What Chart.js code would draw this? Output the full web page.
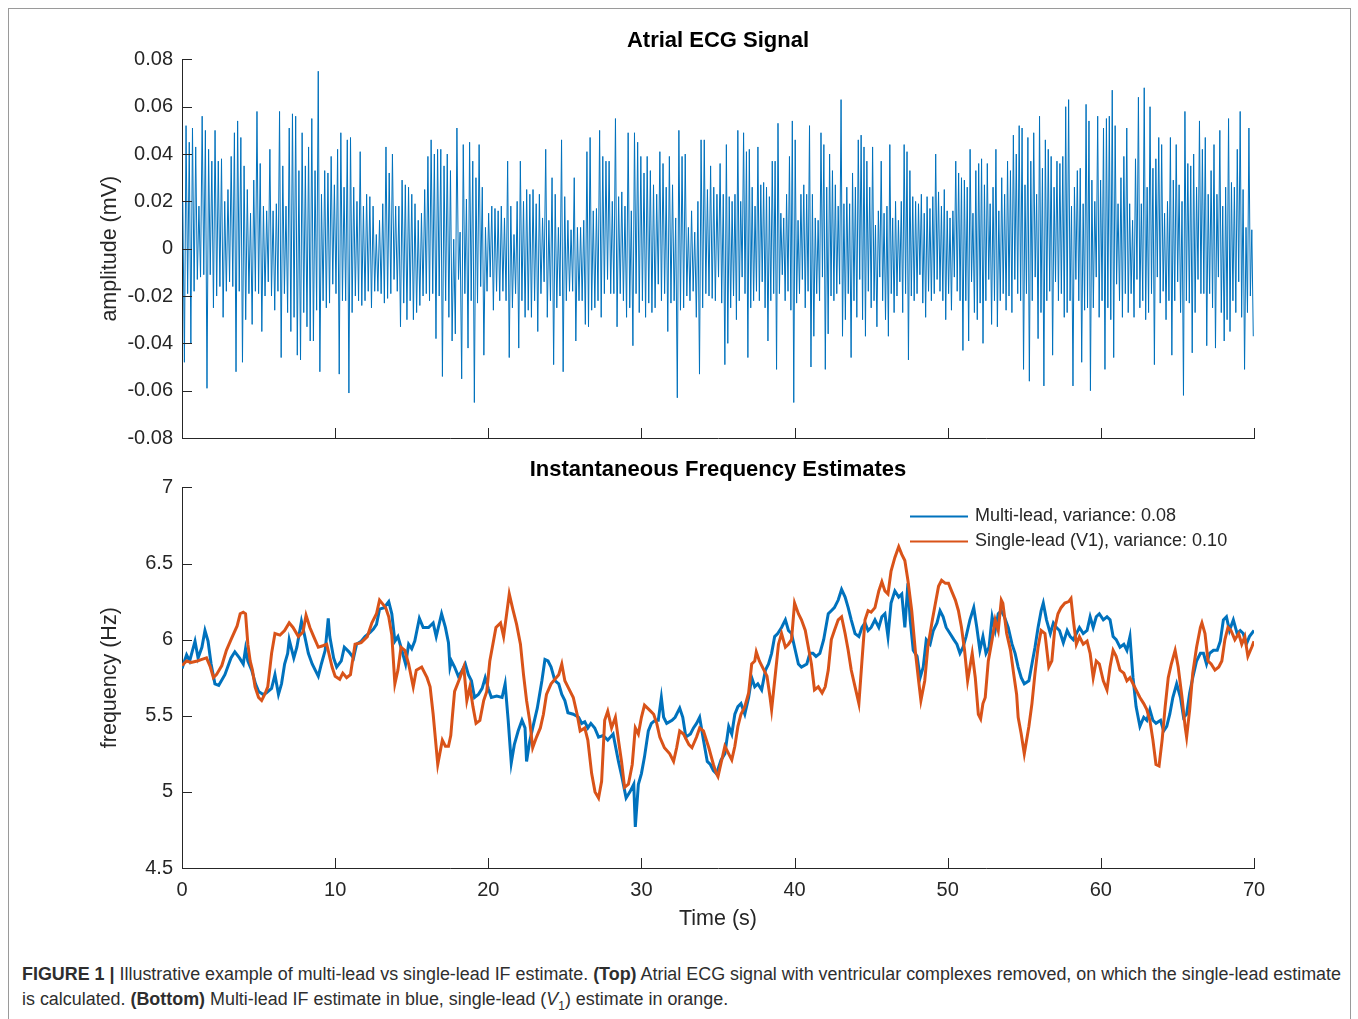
<!DOCTYPE html>
<html>
<head>
<meta charset="utf-8">
<title>Atrial ECG signal and IF estimates</title>
<script src="https://cdn.jsdelivr.net/npm/chart.js@4.4.1/dist/chart.umd.min.js"></script>
<style>
  html, body { margin: 0; padding: 0; background: #fff; }
  body { width: 1358px; height: 1019px; position: relative; overflow: hidden; }
  .frame { position: absolute; left: 8px; top: 8px; width: 1343px; height: 1040px; border: 1px solid #9a9a9a; box-sizing: border-box; }
  #ecgChart { position: absolute; left: 0; top: 0; }
  #ifChart { position: absolute; left: 0; top: 448px; }
  #caption { position: absolute; left: 22px; top: 962px; color: #2e2e2e; font-size: 18px; line-height: 25px;
             font-family: 'Liberation Sans Narrow', 'Liberation Sans', Arial, sans-serif; }
  #caption .line { white-space: nowrap; transform-origin: 0 50%; width: max-content; }
  #caption sub { font-size: 12px; line-height: 0; }
</style>
</head>
<body>
<div class="frame"></div>
<canvas id="ecgChart" width="1358" height="460"></canvas>
<canvas id="ifChart" width="1358" height="492"></canvas>
<div id="caption">
  <div class="line"><b>FIGURE 1 |</b> Illustrative example of multi-lead vs single-lead IF estimate. <b>(Top)</b> Atrial ECG signal with ventricular complexes removed, on which the single-lead estimate</div>
  <div class="line">is calculated. <b>(Bottom)</b> Multi-lead IF estimate in blue, single-lead (<i>V</i><sub>1</sub>) estimate in orange.</div>
</div>
<script>
// atrial ECG: one peak and one trough per oscillation, four stretches of the recording
const ecgSpanEdges = [0, 17.9, 35.5, 53.1, 70];
const ecgSpanCycles = [85, 85, 94, 89];
const ecgPeaks = [
  .020,.052,.045,.051,.043,.018,.056,.050,.042,.037,.050,.037,.038,.020,.025,.039,.049,.054,.047,.035,
  .025,.015,.029,.058,.036,.018,.016,.042,.016,.019,.058,.035,.018,.051,.057,.056,.033,.049,.035,.043,
  .055,.033,.075,.023,.033,.032,.039,.027,.042,.049,.026,.046,.047,.026,.020,.041,.018,.023,.022,.018,
  .006,.012,.019,.043,.032,.040,.018,.018,.029,.027,.026,.023,.019,.012,.015,.025,.039,.046,.040,.042,
  .042,.035,.040,.033,.004,
  .051,.007,.044,.021,.045,.037,.030,.044,.026,.009,.015,.018,.017,.016,.018,.013,.037,.018,.006,.020,
  .037,.020,.025,.023,.025,.019,.023,.013,.042,.012,.030,.023,.009,.046,.022,.012,.008,.030,.009,.009,
  .012,.041,.047,.016,.017,.050,.039,.037,.037,.020,.055,.022,.024,.018,.049,.016,.049,.045,.039,.032,
  .039,.033,.027,.023,.041,.036,.026,.039,.027,.013,.050,.039,.040,.009,.016,.007,.020,.046,.046,.025,
  .035,.026,.023,.036,.023,
  .044,.022,.020,.023,.050,.020,.049,.041,.042,.026,.018,.043,.027,.028,.026,.022,.037,.037,.053,.015,
  .013,.023,.039,.054,.046,.012,.023,.027,.023,.052,.023,.013,.012,.049,.044,.026,.040,.033,.027,.018,
  .063,.019,.026,.019,.032,.026,.046,.048,.043,.037,.026,.043,.010,.016,.037,.015,.018,.044,.013,.020,
  .012,.020,.044,.041,.033,.022,.020,.019,.023,.015,.022,.017,.022,.040,.024,.018,.025,.016,.013,.016,
  .037,.032,.030,.029,.026,.042,.015,.033,.036,.038,.027,.036,.019,.026,
  .042,.016,.030,.023,.037,.033,.048,.040,.052,.051,.027,.047,.037,.049,.023,.056,.034,.046,.042,.039,
  .026,.037,.036,.039,.060,.063,.018,.026,.033,.034,.019,.061,.054,.029,.020,.056,.029,.051,.055,.056,
  .067,.052,.019,.030,.039,.051,.019,.012,.038,.064,.019,.068,.026,.060,.034,.038,.047,.044,.015,.020,
  .047,.029,.044,.027,.020,.058,.036,.035,.040,.026,.054,.042,.047,.023,.033,.044,.023,.050,.018,.026,
  .055,.028,.026,.042,.058,.025,.009,.051,.008
];
const ecgTroughs = [
  -.048,-.019,-.040,-.018,-.013,-.012,-.011,-.059,-.011,-.025,-.020,-.016,-.029,-.018,-.014,-.016,-.052,-.018,-.048,-.030,
  -.019,-.032,-.018,-.019,-.035,-.020,-.014,-.020,-.026,-.018,-.046,-.019,-.027,-.035,-.029,-.045,-.047,-.027,-.033,-.039,
  -.039,-.026,-.052,-.022,-.025,-.023,-.015,-.019,-.053,-.022,-.022,-.061,-.027,-.020,-.022,-.024,-.022,-.018,-.025,-.018,
  -.018,-.019,-.023,-.021,-.019,-.013,-.018,-.033,-.023,-.030,-.022,-.030,-.027,-.024,-.020,-.019,-.022,-.019,-.038,-.020,
  -.054,-.022,-.029,-.039,-.036,
  -.013,-.055,-.019,-.042,-.022,-.065,-.023,-.016,-.045,-.018,-.012,-.026,-.018,-.022,-.018,-.022,-.046,-.025,-.019,-.042,
  -.022,-.029,-.026,-.029,-.022,-.035,-.019,-.014,-.029,-.022,-.049,-.025,-.020,-.052,-.022,-.018,-.018,-.039,-.022,-.022,
  -.032,-.033,-.026,-.025,-.022,-.029,-.019,-.013,-.019,-.019,-.033,-.019,-.022,-.029,-.025,-.041,-.019,-.027,-.022,-.029,
  -.023,-.027,-.025,-.015,-.022,-.019,-.035,-.023,-.022,-.063,-.026,-.025,-.020,-.022,-.018,-.029,-.053,-.025,-.019,-.020,
  -.021,-.022,-.012,-.023,-.049,
  -.040,-.025,-.020,-.030,-.022,-.012,-.019,-.046,-.025,-.022,-.018,-.022,-.014,-.025,-.039,-.022,-.019,-.051,-.019,-.011,
  -.022,-.018,-.026,-.065,-.023,-.019,-.013,-.025,-.018,-.050,-.037,-.019,-.022,-.012,-.051,-.036,-.020,-.022,-.019,-.015,
  -.037,-.030,-.019,-.046,-.022,-.029,-.013,-.030,-.037,-.018,-.025,-.022,-.033,-.012,-.022,-.030,-.037,-.019,-.027,-.020,
  -.014,-.027,-.019,-.047,-.020,-.022,-.019,-.011,-.023,-.029,-.018,-.022,-.019,-.013,-.018,-.022,-.030,-.019,-.026,-.012,
  -.018,-.022,-.043,-.022,-.039,-.014,-.027,-.030,-.023,-.040,-.022,-.013,-.032,-.022,
  -.033,-.022,-.019,-.026,-.020,-.027,-.013,-.019,-.022,-.051,-.019,-.056,-.022,-.012,-.038,-.027,-.058,-.022,-.018,-.045,
  -.014,-.022,-.019,-.029,-.027,-.022,-.058,-.013,-.022,-.048,-.026,-.025,-.060,-.025,-.012,-.029,-.022,-.051,-.025,-.030,
  -.046,-.015,-.022,-.029,-.019,-.027,-.019,-.029,-.013,-.025,-.022,-.030,-.027,-.019,-.049,-.012,-.023,-.018,-.030,-.022,
  -.045,-.022,-.014,-.027,-.062,-.022,-.023,-.044,-.027,-.013,-.019,-.019,-.041,-.019,-.025,-.042,-.012,-.027,-.039,-.030,
  -.035,-.022,-.027,-.014,-.029,-.051,-.027,-.020,-.037
];
const ecgTicks = [-0.08, 0.08, 0.02];   // min, max, step

// instantaneous frequency estimates, [time (s), frequency (Hz)]
const multiLead = [
  [0,5.81],[0.3,5.90],[0.5,5.86],[0.85,5.99],[1.05,5.88],[1.3,5.95],[1.5,6.06],[1.7,5.99],[1.9,5.84],[2.15,5.71],
  [2.4,5.70],[2.8,5.77],[3.2,5.88],[3.45,5.92],[3.75,5.88],[4.0,5.84],[4.15,5.94],[4.3,5.86],[4.55,5.80],[4.8,5.71],
  [5.0,5.66],[5.3,5.64],[5.5,5.65],[5.85,5.68],[6.07,5.77],[6.3,5.64],[6.5,5.71],[6.7,5.84],[6.9,5.91],[7.0,6.00],
  [7.3,5.88],[7.5,5.95],[7.8,6.12],[8.0,6.03],[8.25,5.91],[8.5,5.84],[8.7,5.80],[8.9,5.76],[9.1,5.84],[9.35,5.93],
  [9.55,6.14],[9.65,6.02],[9.9,5.88],[10.1,5.82],[10.4,5.86],[10.6,5.95],[10.9,5.92],[11.2,5.88],[11.4,5.97],[11.7,5.99],
  [11.95,6.02],[12.3,6.05],[12.5,6.07],[12.7,6.10],[12.9,6.20],[13.2,6.21],[13.5,6.25],[13.7,6.17],[13.9,5.99],[14.1,6.02],
  [14.3,5.95],[14.6,5.84],[14.8,5.97],[15.0,5.94],[15.2,5.99],[15.5,6.14],[15.75,6.08],[16.1,6.08],[16.4,6.11],[16.6,6.02],
  [16.95,6.17],[17.2,6.08],[17.4,5.98],[17.5,5.82],[17.6,5.86],[17.8,5.82],[18.04,5.76],[18.25,5.79],[18.5,5.84],[18.7,5.77],
  [18.9,5.73],[19.1,5.62],[19.35,5.64],[19.6,5.68],[19.8,5.75],[20.0,5.68],[20.2,5.62],[20.55,5.63],[20.9,5.62],[21.1,5.71],
  [21.3,5.47],[21.5,5.19],[21.7,5.31],[21.95,5.40],[22.2,5.47],[22.4,5.42],[22.5,5.20],[22.7,5.33],[22.9,5.42],[23.2,5.55],
  [23.5,5.73],[23.7,5.87],[23.9,5.86],[24.1,5.82],[24.35,5.73],[24.6,5.71],[24.8,5.64],[25.0,5.60],[25.2,5.52],[25.55,5.51],
  [25.9,5.49],[26.1,5.45],[26.3,5.46],[26.5,5.42],[26.7,5.45],[26.95,5.42],[27.2,5.36],[27.5,5.37],[27.8,5.34],[28.15,5.38],
  [28.5,5.20],[28.7,5.11],[29.0,4.96],[29.25,5.00],[29.5,5.05],[29.6,4.77],[29.8,5.05],[30.0,5.12],[30.2,5.23],[30.45,5.40],
  [30.65,5.45],[30.9,5.47],[31.1,5.47],[31.3,5.62],[31.45,5.49],[31.65,5.45],[32.0,5.47],[32.2,5.49],[32.5,5.55],[32.7,5.49],
  [32.9,5.36],[33.2,5.38],[33.4,5.42],[33.6,5.45],[33.8,5.49],[34.05,5.34],[34.3,5.20],[34.5,5.18],[34.7,5.14],[34.9,5.12],
  [35.2,5.21],[35.45,5.25],[35.7,5.43],[35.9,5.38],[36.1,5.51],[36.3,5.56],[36.5,5.58],[36.75,5.51],[37.0,5.62],[37.2,5.75],
  [37.4,5.69],[37.6,5.71],[37.85,5.67],[38.1,5.80],[38.3,5.84],[38.5,5.91],[38.7,6.02],[38.9,6.04],[39.15,6.08],[39.4,6.13],
  [39.6,6.06],[39.8,6.04],[40.0,5.95],[40.25,5.84],[40.45,5.82],[40.8,5.84],[41.0,5.91],[41.2,5.91],[41.4,5.89],[41.65,5.91],
  [41.9,6.00],[42.2,6.17],[42.4,6.19],[42.6,6.21],[42.85,6.26],[43.07,6.33],[43.3,6.28],[43.5,6.21],[43.7,6.13],[43.95,6.04],
  [44.2,6.02],[44.4,6.08],[44.6,6.11],[44.8,6.06],[45.0,6.08],[45.25,6.13],[45.5,6.08],[45.7,6.15],[45.9,6.17],[46.1,6.02],
  [46.3,6.24],[46.55,6.32],[46.8,6.28],[47.0,6.30],[47.2,6.08],[47.4,6.37],[47.55,6.13],[47.75,5.93],[48.0,5.89],[48.2,5.75],
  [48.4,5.82],[48.6,6.00],[48.85,5.97],[49.06,6.06],[49.3,6.11],[49.5,6.19],[49.7,6.15],[49.9,6.08],[50.15,6.04],[50.4,6.00],
  [50.6,5.97],[50.8,5.91],[51.0,5.95],[51.2,6.02],[51.45,6.13],[51.7,6.21],[51.9,6.08],[52.1,5.93],[52.3,6.02],[52.5,5.91],
  [52.7,5.95],[52.9,6.15],[53.1,6.06],[53.3,6.17],[53.5,6.19],[53.7,6.15],[53.95,6.08],[54.2,5.97],[54.4,5.91],[54.6,5.82],
  [54.8,5.75],[55.0,5.71],[55.3,5.73],[55.5,5.84],[55.7,5.95],[55.9,6.08],[56.1,6.19],[56.24,6.24],[56.45,6.13],[56.7,6.04],
  [56.9,6.11],[57.1,6.08],[57.3,6.06],[57.55,5.98],[57.8,6.06],[58.0,6.02],[58.2,6.00],[58.4,6.04],[58.6,6.08],[58.85,6.04],
  [59.1,6.06],[59.3,6.15],[59.5,6.08],[59.7,6.15],[59.9,6.17],[60.16,6.13],[60.4,6.15],[60.6,6.13],[60.8,6.02],[61.0,6.00],
  [61.25,5.95],[61.5,5.97],[61.7,5.93],[61.9,6.02],[62.1,5.75],[62.3,5.56],[62.55,5.43],[62.8,5.49],[63.0,5.47],[63.2,5.54],
  [63.4,5.47],[63.6,5.45],[63.9,5.47],[64.1,5.40],[64.3,5.43],[64.5,5.51],[64.7,5.62],[64.95,5.71],[65.2,5.62],[65.4,5.49],
  [65.6,5.51],[65.8,5.65],[66.0,5.75],[66.25,5.86],[66.5,5.91],[66.7,5.91],[66.9,5.84],[67.1,5.91],[67.35,5.93],[67.6,5.93],
  [67.8,5.99],[68.0,6.13],[68.2,6.15],[68.4,6.06],[68.65,6.13],[68.9,6.04],[69.1,6.06],[69.3,6.04],[69.5,5.97],[69.7,6.02],
  [70.0,6.06]
];
const singleLead = [
  [0,5.83],[0.3,5.86],[0.6,5.85],[1.0,5.86],[1.3,5.87],[1.6,5.88],[1.85,5.82],[2.05,5.75],[2.25,5.77],[2.6,5.83],
  [2.9,5.93],[3.2,6.00],[3.6,6.09],[3.8,6.17],[4.0,6.18],[4.15,6.17],[4.3,5.97],[4.45,5.86],[4.6,5.80],[4.77,5.69],
  [5.0,5.62],[5.2,5.60],[5.4,5.64],[5.6,5.69],[5.85,5.91],[6.07,6.04],[6.4,6.03],[6.7,6.06],[7.0,6.11],[7.25,6.08],
  [7.6,6.02],[7.9,6.05],[8.1,6.16],[8.35,6.08],[8.6,6.02],[8.9,5.95],[9.2,5.96],[9.45,5.97],[9.8,5.82],[10.0,5.76],
  [10.3,5.74],[10.5,5.78],[10.75,5.75],[11.0,5.77],[11.3,5.97],[11.7,5.98],[12.1,6.02],[12.4,6.11],[12.7,6.17],[12.9,6.26],
  [13.3,6.21],[13.5,6.15],[13.7,6.03],[13.9,5.71],[14.1,5.80],[14.3,5.95],[14.55,5.93],[14.8,5.84],[15.1,5.69],[15.3,5.80],
  [15.65,5.82],[16.0,5.75],[16.2,5.69],[16.4,5.51],[16.6,5.29],[16.7,5.18],[17.0,5.34],[17.2,5.30],[17.4,5.30],[17.55,5.37],
  [17.65,5.49],[17.8,5.66],[18.15,5.75],[18.4,5.82],[18.6,5.60],[18.8,5.69],[19.0,5.56],[19.2,5.45],[19.45,5.47],[19.7,5.60],
  [19.9,5.66],[20.1,5.86],[20.3,5.97],[20.5,6.08],[20.8,6.11],[21.0,6.02],[21.2,6.17],[21.37,6.30],[21.6,6.20],[21.85,6.10],
  [22.1,5.97],[22.3,5.77],[22.5,5.60],[22.7,5.47],[22.9,5.29],[23.15,5.36],[23.4,5.42],[23.6,5.51],[23.8,5.64],[24.1,5.71],
  [24.35,5.74],[24.6,5.77],[24.8,5.84],[25.0,5.73],[25.2,5.69],[25.55,5.62],[25.8,5.51],[26.0,5.40],[26.3,5.42],[26.5,5.34],
  [26.75,5.12],[26.97,5.00],[27.2,4.96],[27.4,5.07],[27.6,5.47],[27.8,5.53],[28.05,5.42],[28.3,5.49],[28.5,5.34],[28.7,5.20],
  [28.9,5.03],[29.15,5.05],[29.4,5.18],[29.6,5.42],[29.8,5.38],[30.0,5.49],[30.2,5.57],[30.5,5.54],[30.8,5.51],[31.0,5.45],
  [31.2,5.36],[31.5,5.29],[31.85,5.25],[32.1,5.20],[32.3,5.29],[32.5,5.40],[32.75,5.38],[33.1,5.31],[33.3,5.29],[33.6,5.36],
  [33.8,5.42],[34.05,5.40],[34.4,5.29],[34.7,5.18],[34.9,5.12],[35.0,5.10],[35.2,5.19],[35.45,5.30],[35.7,5.25],[35.9,5.21],
  [36.1,5.30],[36.3,5.43],[36.5,5.51],[36.75,5.56],[37.0,5.65],[37.2,5.84],[37.4,5.86],[37.5,5.92],[37.7,5.86],[38.0,5.80],
  [38.2,5.76],[38.4,5.62],[38.5,5.54],[38.7,5.73],[38.95,5.97],[39.15,6.04],[39.4,5.95],[39.6,5.97],[39.8,6.00],[40.0,6.24],
  [40.25,6.17],[40.45,6.13],[40.7,6.06],[40.9,5.95],[41.1,5.84],[41.3,5.67],[41.55,5.69],[41.8,5.65],[42.0,5.69],[42.2,5.80],
  [42.4,6.00],[42.6,6.06],[42.85,6.13],[43.07,6.15],[43.3,6.04],[43.5,5.93],[43.7,5.80],[43.95,5.69],[44.2,5.58],[44.4,5.86],
  [44.6,6.13],[44.8,6.19],[45.0,6.18],[45.25,6.21],[45.5,6.32],[45.7,6.38],[45.9,6.32],[46.1,6.30],[46.3,6.45],[46.55,6.54],
  [46.8,6.61],[47.0,6.56],[47.2,6.52],[47.4,6.39],[47.65,6.19],[47.9,5.91],[48.1,5.73],[48.25,5.60],[48.5,5.73],[48.7,5.95],
  [49.0,6.13],[49.2,6.24],[49.4,6.35],[49.6,6.39],[49.85,6.37],[50.05,6.37],[50.25,6.32],[50.5,6.26],[50.7,6.19],[50.9,6.08],
  [51.1,5.93],[51.3,5.73],[51.6,5.91],[51.8,5.75],[52.0,5.51],[52.15,5.48],[52.3,5.58],[52.45,5.62],[52.65,5.86],[52.9,6.00],
  [53.1,6.13],[53.3,6.06],[53.5,6.26],[53.6,6.24],[53.85,6.04],[54.1,5.93],[54.3,5.78],[54.5,5.64],[54.6,5.49],[54.8,5.38],
  [55.0,5.25],[55.3,5.43],[55.5,5.58],[55.7,5.78],[55.9,5.95],[56.1,6.06],[56.35,6.04],[56.6,5.82],[56.8,5.86],[57.0,6.08],
  [57.2,6.17],[57.4,6.21],[57.65,6.24],[57.9,6.25],[58.05,6.27],[58.2,6.13],[58.4,5.97],[58.6,6.02],[58.85,5.97],[59.1,5.99],
  [59.3,5.91],[59.5,5.75],[59.7,5.86],[59.9,5.84],[60.16,5.73],[60.4,5.67],[60.6,5.82],[60.8,5.93],[61.0,5.89],[61.25,5.80],
  [61.5,5.78],[61.7,5.73],[61.9,5.75],[62.1,5.71],[62.3,5.67],[62.55,5.62],[62.8,5.58],[63.0,5.54],[63.2,5.47],[63.4,5.34],
  [63.6,5.18],[63.8,5.17],[64.0,5.34],[64.2,5.56],[64.4,5.75],[64.6,5.84],[64.85,5.93],[65.05,5.82],[65.3,5.62],[65.5,5.43],
  [65.6,5.36],[65.8,5.54],[66.0,5.78],[66.25,5.95],[66.5,6.08],[66.6,6.11],[66.8,6.04],[67.0,5.86],[67.2,5.84],[67.45,5.80],
  [67.7,5.82],[67.9,5.86],[68.1,6.00],[68.3,6.08],[68.5,6.06],[68.75,6.00],[69.0,6.04],[69.2,5.97],[69.4,6.02],[69.6,5.89],
  [69.85,5.95],[70.0,5.99]
];
const seriesLabels = ['Multi-lead, variance: 0.08', 'Single-lead (V1), variance: 0.10'];
const freqTicks = [4.5, 7, 0.5];
const timeTicks = [0, 70, 10];

const AXIS = '#262626';
const BLUE = '#0072BD';
const ORANGE = '#D95319';
Chart.defaults.font.family = "'Liberation Sans', Arial, sans-serif";
Chart.defaults.color = AXIS;

// spread each stretch's oscillations evenly over its time span
const ecgPoints = [];
let c = 0;
ecgSpanCycles.forEach((n, s) => {
  const start = ecgSpanEdges[s];
  const step = (ecgSpanEdges[s + 1] - start) / n;
  for (let j = 0; j < n; j++, c++) {
    ecgPoints.push({ x: start + (j + 0.25) * step, y: ecgPeaks[c] });
    ecgPoints.push({ x: start + (j + 0.75) * step, y: ecgTroughs[c] });
  }
});
const toXY = rows => rows.map(r => ({ x: r[0], y: r[1] }));

// tick marks pointing into the plot
const innerTicks = {
  id: 'innerTicks',
  afterDatasetsDraw(chart) {
    const { ctx, chartArea: a, scales } = chart;
    const len = 10;
    ctx.save();
    ctx.strokeStyle = AXIS;
    ctx.lineWidth = 1;
    ctx.beginPath();
    scales.x.ticks.forEach(t => {
      const px = Math.round(scales.x.getPixelForValue(t.value)) + 0.5;
      ctx.moveTo(px, a.bottom);
      ctx.lineTo(px, a.bottom - len);
    });
    scales.y.ticks.forEach(t => {
      const py = Math.round(scales.y.getPixelForValue(t.value)) + 0.5;
      ctx.moveTo(a.left, py);
      ctx.lineTo(a.left + len, py);
    });
    ctx.stroke();
    ctx.restore();
  }
};

// legend drawn inside the top right corner of the plot
const insetLegend = {
  id: 'insetLegend',
  afterDraw(chart) {
    const { ctx, chartArea: a } = chart;
    ctx.save();
    ctx.font = "18px 'Liberation Sans', Arial, sans-serif";
    ctx.textBaseline = 'middle';
    ctx.fillStyle = AXIS;
    chart.data.datasets.forEach((ds, i) => {
      const y = a.top + 29 + i * 25;
      ctx.strokeStyle = ds.borderColor;
      ctx.lineWidth = 2;
      ctx.beginPath();
      ctx.moveTo(a.right - 344, y);
      ctx.lineTo(a.right - 286, y);
      ctx.stroke();
      ctx.fillText(ds.label, a.right - 279, y);
    });
    ctx.restore();
  }
};

function axisOpts(extra) {
  return Object.assign({
    type: 'linear',
    grid: { drawOnChartArea: false, drawTicks: false },
    border: { display: true, color: AXIS, width: 1 }
  }, extra);
}

new Chart(document.getElementById('ecgChart'), {
  type: 'line',
  data: {
    datasets: [{
      label: 'Atrial ECG',
      data: ecgPoints,
      borderColor: BLUE,
      borderWidth: 1,
      pointRadius: 0,
      tension: 0
    }]
  },
  options: {
    responsive: false,
    animation: false,
    devicePixelRatio: 1,
    layout: { padding: { left: 0, right: 104, top: 0, bottom: 22 } },
    plugins: {
      legend: { display: false },
      tooltip: { enabled: false },
      title: {
        display: true, text: 'Atrial ECG Signal', fullSize: false, color: '#000',
        font: { size: 22, weight: 'bold' }, padding: { top: 28, bottom: 5 }
      }
    },
    scales: {
      x: axisOpts({
        min: timeTicks[0], max: timeTicks[1],
        ticks: { display: false, stepSize: timeTicks[2] },
        afterFit: s => { s.height = 0; }
      }),
      y: axisOpts({
        min: ecgTicks[0], max: ecgTicks[1],
        ticks: {
          stepSize: ecgTicks[2], padding: 9, font: { size: 20 },
          callback: v => Math.abs(v) < 1e-9 ? '0' : v.toFixed(2)
        },
        title: { display: true, text: 'amplitude (mV)', font: { size: 21.5 }, padding: { top: 97, bottom: 0 } },
        afterFit: s => { s.width = 182; }
      })
    }
  },
  plugins: [innerTicks]
});

new Chart(document.getElementById('ifChart'), {
  type: 'line',
  data: {
    datasets: [
      { label: seriesLabels[0], data: toXY(multiLead), borderColor: BLUE, borderWidth: 3, pointRadius: 0, tension: 0, order: 2 },
      { label: seriesLabels[1], data: toXY(singleLead), borderColor: ORANGE, borderWidth: 3, pointRadius: 0, tension: 0, order: 1 }
    ]
  },
  options: {
    responsive: false,
    animation: false,
    devicePixelRatio: 1,
    layout: { padding: { left: 0, right: 104, top: 0, bottom: 0 } },
    plugins: {
      legend: { display: false },
      tooltip: { enabled: false },
      title: {
        display: true, text: 'Instantaneous Frequency Estimates', fullSize: false, color: '#000',
        font: { size: 22, weight: 'bold' }, padding: { top: 9, bottom: 4 }
      }
    },
    scales: {
      x: axisOpts({
        min: timeTicks[0], max: timeTicks[1],
        ticks: { stepSize: timeTicks[2], padding: 10, font: { size: 20 }, maxRotation: 0 },
        title: { display: true, text: 'Time (s)', font: { size: 21.5 }, padding: { top: 0, bottom: 8 } },
        afterFit: s => { s.height = 72; }
      }),
      y: axisOpts({
        min: freqTicks[0], max: freqTicks[1],
        ticks: { stepSize: freqTicks[2], padding: 9, font: { size: 20 }, callback: v => String(+v.toFixed(2)) },
        title: { display: true, text: 'frequency (Hz)', font: { size: 21.5 }, padding: { top: 97, bottom: 0 } },
        afterFit: s => { s.width = 182; }
      })
    }
  },
  plugins: [innerTicks, insetLegend]
});

// squeeze the caption lines to the column width
const lines = document.querySelectorAll('#caption .line');
const k = 1319 / lines[0].getBoundingClientRect().width;
lines.forEach(l => { l.style.transform = 'scaleX(' + k + ')'; });
</script>
</body>
</html>
